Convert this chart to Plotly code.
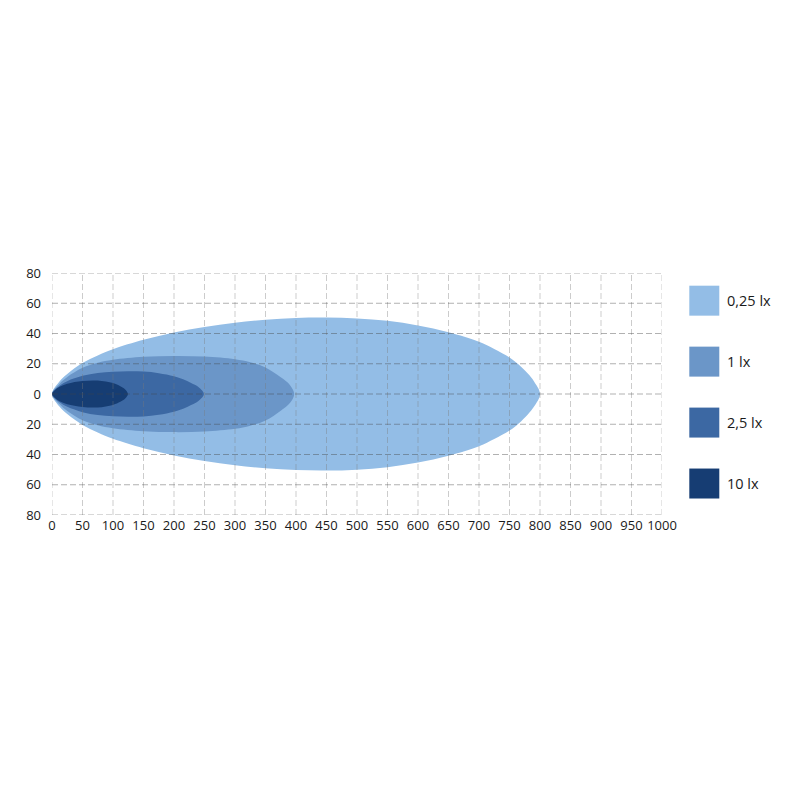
import plotly.graph_objects as go

# ---- data ----
levels = ["0,25 lx", "1 lx", "2,5 lx", "10 lx"]
colors = ["#93bde6", "#6b96c8", "#3c68a3", "#163d73"]

dist_025 = [0, 12.5, 25, 50, 75, 100, 150, 200, 250, 300, 350, 400, 450, 500, 550, 600, 650, 700, 725, 750, 765, 780, 790, 800]
half_025 = [0, 8.5, 13.3, 20.5, 25.5, 29.6, 35.8, 40.6, 44.3, 47.1, 49.1, 50.3, 50.6, 50, 48.4, 45.3, 40.8, 34.5, 29.8, 24.2, 19.5, 13.5, 8.5, 0]

dist_1 = [0, 12.5, 25, 50, 75, 100, 150, 200, 250, 300, 325, 350, 375, 390, 397]
half_1 = [0, 6.8, 11.2, 17.3, 20.6, 22.6, 24.6, 25.2, 24.8, 23, 21, 17.5, 11, 6, 0]

dist_25 = [0, 12.5, 25, 50, 75, 100, 125, 150, 175, 200, 215, 228, 240, 249]
half_25 = [0, 5.5, 8.5, 12, 13.9, 14.7, 15, 14.8, 13.8, 11.8, 9.8, 7.3, 4.6, 0]

dist_10 = [0, 6, 12.5, 25, 50, 75, 100, 112, 120, 124.5]
half_10 = [0, 3, 4.8, 6.8, 8.6, 8.9, 7.2, 5.2, 3, 0]

x_ticks = list(range(0, 1001, 50))
y_ticks = [-80, -60, -40, -20, 0, 20, 40, 60, 80]
y_ticktext = [str(abs(v)) for v in y_ticks]

series = [(dist_025, half_025), (dist_1, half_1), (dist_25, half_25), (dist_10, half_10)]

fig = go.Figure()
for (xs, hs), name, col in zip(series, levels, colors):
    px = list(xs) + list(reversed(xs))[1:]
    py = list(hs) + [-h for h in reversed(hs)][1:]
    fig.add_trace(go.Scatter(
        x=px, y=py, mode="lines", fill="toself", fillcolor=col,
        line=dict(color=col, width=0, shape="spline", smoothing=1.0),
        name=name, showlegend=False, hoverinfo="skip"))

# grid lines drawn above the filled areas
shapes = []
for v in x_ticks:
    shapes.append(dict(type="line", xref="x", yref="y", x0=v, x1=v, y0=-80, y1=80, layer="above",
                       line=dict(color="rgba(120,120,120,0.38)", width=1, dash="6px,3px")))
for v in y_ticks:
    shapes.append(dict(type="line", xref="x", yref="y", x0=0, x1=1000, y0=v, y1=v, layer="above",
                       line=dict(color="rgba(70,70,70,0.42)", width=1, dash="6px,3px")))

# page offset of the plot div (default body margin)
OFF = 8
PL, PT, PW, PH = 51.7, 273.3, 610.0, 242.2   # target plot area in screen pixels
W, H = 800, 800

# custom legend (squares + labels), positions in screen pixels
annotations = []
leg_x0, leg_x1 = 689, 719
leg_tops = [286, 347, 408, 469]
def fx(px_):
    return (px_ - PL) / PW
def fy(py_):
    return (PT + PH - py_) / PH
for name, col, top in zip(levels, colors, leg_tops):
    shapes.append(dict(type="rect", xref="paper", yref="paper",
                       x0=fx(leg_x0), x1=fx(leg_x1), y0=fy(top + 30), y1=fy(top),
                       fillcolor=col, line=dict(width=0)))
    annotations.append(dict(xref="paper", yref="paper", x=fx(725), y=fy(top + 15),
                            text=name, showarrow=False, xanchor="left", yanchor="middle",
                            font=dict(size=14.5, color="#1a1a1a")))

fig.update_layout(
    width=W, height=H,
    margin=dict(l=PL - OFF, r=W - (PL - OFF) - PW, t=PT - OFF, b=H - (PT - OFF) - PH),
    paper_bgcolor="white", plot_bgcolor="white",
    font=dict(family="Open Sans, Noto Sans, sans-serif", size=13, color="#1a1a1a"),
    shapes=shapes, annotations=annotations,
    showlegend=False,
    xaxis=dict(range=[0, 1000], tickvals=x_ticks, showgrid=False, zeroline=False,
               showline=False, ticks="", ticklabelstandoff=1, fixedrange=True, automargin=False),
    yaxis=dict(range=[-80, 80], tickvals=y_ticks, ticktext=y_ticktext, showgrid=False,
               zeroline=False, showline=False, ticks="", ticklabelstandoff=10, fixedrange=True,
               automargin=False),
)

fig.write_html("out.html")
